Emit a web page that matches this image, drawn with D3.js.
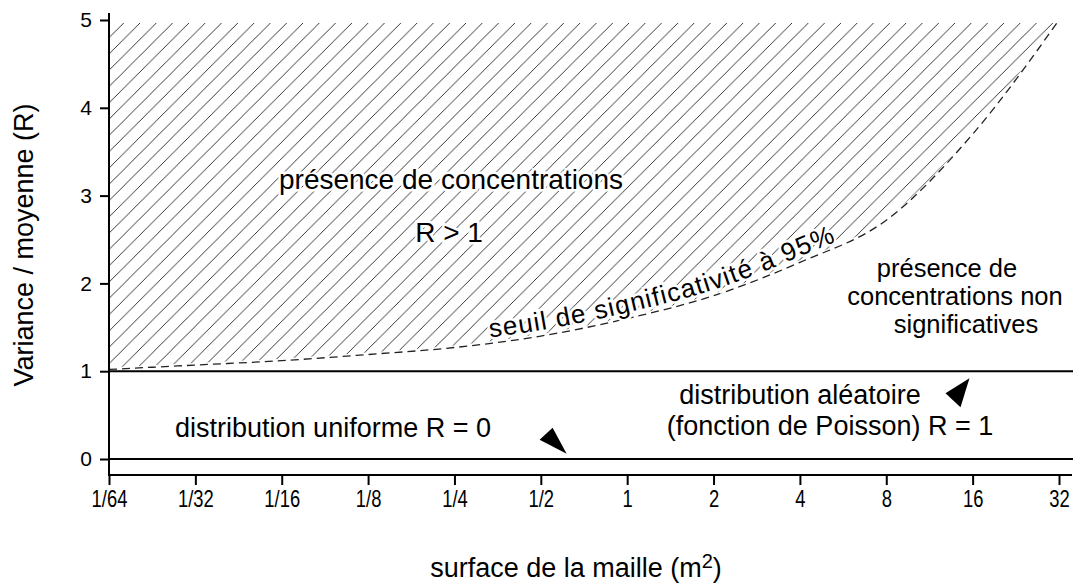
<!DOCTYPE html>
<html>
<head>
<meta charset="utf-8">
<script src="https://cdn.jsdelivr.net/npm/d3@7"></script>
<style>
  body { margin: 0; background: #fff; }
  svg { display: block; font-family: "Liberation Sans", Arial, Helvetica, sans-serif; }
  .tick text { fill: #000; }
</style>
</head>
<body>
<svg id="chart" width="1075" height="583"></svg>
<script>
// surface de la maille (m2), log2 axis
var sizeValues = [1/64, 1/32, 1/16, 1/8, 1/4, 1/2, 1, 2, 4, 8, 16, 32];
var sizeLabels = ["1/64", "1/32", "1/16", "1/8", "1/4", "1/2", "1", "2", "4", "8", "16", "32"];
// seuil de significativite a 95% (R) for each surface
var seuilR = [1.02, 1.07, 1.12, 1.19, 1.27, 1.40, 1.60, 1.86, 2.24, 2.72, 3.70, 5.0];
var yTicks = [0, 1, 2, 3, 4, 5];
// reference lines R = 0 (uniforme) et R = 1 (Poisson)
var refLines = [0, 1];
// arrow tips : [surface, R]
var arrowTips = [[0.615, 0.06], [15.6, 0.92]];

var svg = d3.select("#chart");

var x = d3.scaleLog().base(2).domain([1/64, 32]).range([109, 1059]);
var y = d3.scaleLinear().domain([0, 5]).range([459, 20]);

var pts = sizeValues.map(function(s, i) { return { s: s, r: seuilR[i] }; });

// HACHURES
var defs = svg.append("defs");
var pat = defs.append("pattern")
  .attr("id", "hatch")
  .attr("patternUnits", "userSpaceOnUse")
  .attr("width", 16.3)
  .attr("height", 16.3);
pat.append("path")
  .attr("d", "M-4,4 L4,-4 M0,16.3 L16.3,0 M12.3,20.3 L20.3,12.3")
  .attr("stroke", "#222")
  .attr("stroke-width", 0.9);

var area = d3.area()
  .x(function(d) { return x(d.s); })
  .y0(function(d) { return y(d.r) - 2; })
  .y1(function(d) { return y(5) + 3; })
  .curve(d3.curveMonotoneX);

svg.append("path")
  .datum(pts)
  .attr("d", area)
  .attr("fill", "url(#hatch)");

// courbe du seuil
var line = d3.line()
  .x(function(d) { return x(d.s); })
  .y(function(d) { return y(d.r); })
  .curve(d3.curveMonotoneX);

svg.append("path")
  .datum(pts)
  .attr("d", line)
  .attr("fill", "none")
  .attr("stroke", "#222")
  .attr("stroke-width", 1.3)
  .attr("stroke-dasharray", "8,5");

// lignes R = 0 et R = 1
svg.selectAll(".ref")
  .data(refLines)
  .enter().append("line")
  .attr("class", "ref")
  .attr("x1", 109).attr("x2", 1073)
  .attr("y1", function(d) { return y(d); })
  .attr("y2", function(d) { return y(d); })
  .attr("stroke", "#000")
  .attr("stroke-width", 2);

// AXES
var xAxis = d3.axisBottom(x)
  .tickValues(sizeValues)
  .tickFormat(function(d, i) { return sizeLabels[i]; })
  .tickSize(10)
  .tickSizeOuter(0)
  .tickPadding(6);

var gx = svg.append("g")
  .attr("transform", "translate(0,475)")
  .call(xAxis);
gx.select(".domain").attr("d", "M109,0H1072").attr("stroke-width", 2);
gx.selectAll(".tick line").attr("stroke-width", 2).attr("y1", 0);
// police etroite : on comprime horizontalement
gx.selectAll(".tick text")
  .attr("font-size", 23)
  .attr("transform", "scale(0.8,1)");

var yAxis = d3.axisLeft(y)
  .tickValues(yTicks)
  .tickFormat(d3.format("d"))
  .tickSize(9)
  .tickSizeOuter(0)
  .tickPadding(8);

var gy = svg.append("g")
  .attr("transform", "translate(109,0)")
  .call(yAxis);
gy.select(".domain").attr("d", "M0,13V476").attr("stroke-width", 2);
gy.selectAll(".tick line").attr("stroke-width", 2);
gy.selectAll(".tick text").attr("font-size", 21);

// TITRES
svg.append("text")
  .attr("transform", "translate(33,245) rotate(-90)")
  .attr("text-anchor", "middle")
  .attr("font-size", 27)
  .text("Variance / moyenne (R)");

var xt = svg.append("text")
  .attr("x", 576)
  .attr("y", 577)
  .attr("text-anchor", "middle")
  .attr("font-size", 27)
  .text("surface de la maille (m");
xt.append("tspan").attr("dy", -9).attr("font-size", 20).text("2");
xt.append("tspan").attr("dy", 9).text(")");

// ETIQUETTES (avec halo blanc sur les hachures)
function label(tx, ty, txt, size) {
  return svg.append("text")
    .attr("x", tx).attr("y", ty)
    .attr("text-anchor", "middle")
    .attr("font-size", size)
    .attr("stroke", "#fff")
    .attr("stroke-width", 5)
    .attr("paint-order", "stroke")
    .attr("fill", "#000")
    .text(txt);
}

label(451, 189, "présence de concentrations", 28);
label(449, 242, "R > 1", 28);
label(947, 277, "présence de", 25.5);
label(955, 305, "concentrations non", 25.5);
label(966, 333, "significatives", 25.5);
label(800, 404, "distribution aléatoire", 27);
label(830, 435, "(fonction de Poisson) R = 1", 27);
label(333, 437, "distribution uniforme R = 0", 27);

// texte le long de la courbe
var textLine = d3.line()
  .x(function(d) { return x(d.s); })
  .y(function(d) { return y(d.r) - 6; })
  .curve(d3.curveMonotoneX);

var tp = defs.append("path")
  .attr("id", "seuilPath")
  .datum(pts)
  .attr("d", textLine);

// trouver la longueur ou le texte commence (x = 490)
var node = tp.node();
var lo = 0, hi = node.getTotalLength();
for (var k = 0; k < 40; k++) {
  var mid = (lo + hi) / 2;
  if (node.getPointAtLength(mid).x < 490) lo = mid; else hi = mid;
}

svg.append("text")
  .attr("font-size", 26)
  .attr("letter-spacing", 1.2)
  .attr("stroke", "#fff")
  .attr("stroke-width", 5)
  .attr("paint-order", "stroke")
  .append("textPath")
  .attr("href", "#seuilPath")
  .attr("startOffset", lo)
  .text("seuil de significativité à 95%");

// FLECHES
var arrowShapes = [
  [[0, 0], [-27, -14], [-14, -26]],
  [[0, 0], [-24, 15], [-9, 29]]
];
svg.selectAll(".arrow")
  .data(arrowTips)
  .enter().append("path")
  .attr("class", "arrow")
  .attr("d", function(d, i) {
    var tx = x(d[0]), ty = y(d[1]);
    return "M" + arrowShapes[i].map(function(p) { return (tx + p[0]) + "," + (ty + p[1]); }).join("L") + "Z";
  })
  .attr("fill", "#000");
</script>
</body>
</html>
